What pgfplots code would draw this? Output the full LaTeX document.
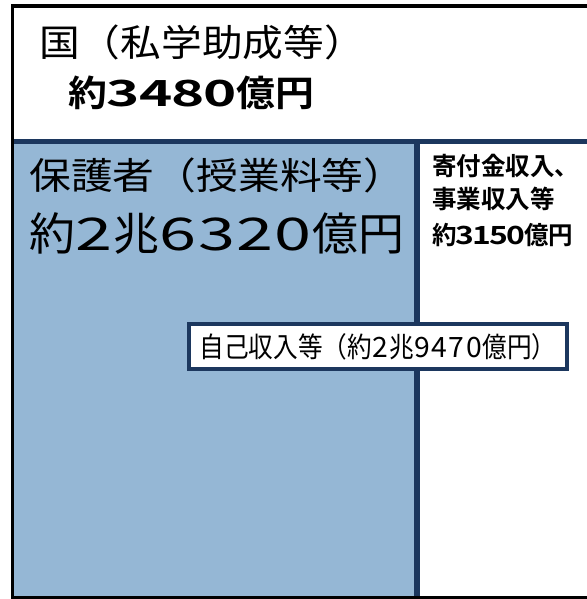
\documentclass[border=0pt]{standalone}
\usepackage{pgfplots}
\pgfplotsset{compat=1.18}
\usepackage{fontspec}
\usepackage{graphicx}
\newfontfamily\cjk{Noto Sans CJK JP}
\newfontfamily\cjkb{Noto Sans CJK JP Bold}
\definecolor{navy}{RGB}{28,55,94}
\definecolor{fillblue}{RGB}{149,183,213}
\newlength\dw
\newcommand\dsx{1.3}
\newcommand\D[1]{\makebox[\dw][c]{\scalebox{\dsx}[1]{#1}}}
\begin{document}
\begin{tikzpicture}
\begin{axis}[
  width=587bp, height=599bp, scale only axis,
  xmin=0, xmax=587, ymin=0, ymax=599, y dir=reverse,
  axis lines=none, ticks=none, clip=true,
]
% background and areas
\addplot[fill=white, draw=none] coordinates {(0,0) (587,0) (587,599) (0,599) (0,0)};
\addplot[fill=fillblue, draw=none] coordinates {(13,144) (415,144) (415,597) (13,597) (13,144)};
% borders
\addplot[black, line width=4bp] coordinates {(11,6.5) (587,6.5)};
\addplot[black, line width=3bp] coordinates {(12.5,5) (12.5,598)};
\addplot[black, line width=3bp] coordinates {(11,597.5) (587,597.5)};
\addplot[navy, line width=5bp] coordinates {(14,141.5) (587,141.5)};
\addplot[navy, line width=5.5bp] coordinates {(417,141) (417,596)};
% labels
\node[anchor=west, inner sep=0] at (axis cs:39,42)
  {\scalebox{1.1}[1]{\cjk\fontsize{37bp}{40bp}\selectfont 国（私学助成等）}};
\node[anchor=west, inner sep=0] at (axis cs:68,93)
  {\renewcommand\dsx{1.45}\setlength\dw{30bp}\scalebox{1.08}[1]{\cjkb\fontsize{36bp}{40bp}\selectfont 約\D3\D4\D8\D0億円}};
\node[anchor=west, inner sep=0] at (axis cs:29,175)
  {\scalebox{1.13}[1]{\cjk\fontsize{37bp}{40bp}\selectfont 保護者（授業料等）}};
\node[anchor=west, inner sep=0] at (axis cs:29,234)
  {\renewcommand\dsx{1.45}\setlength\dw{37.5bp}\scalebox{1.02}[1]{\cjk\fontsize{45bp}{48bp}\selectfont 約\D2兆\D6\D3\D2\D0億円}};
\node[anchor=west, inner sep=0] at (axis cs:432,166)
  {\scalebox{0.98}[1]{\cjkb\fontsize{25bp}{28bp}\selectfont 寄付金収入、}};
\node[anchor=west, inner sep=0] at (axis cs:432,199)
  {\scalebox{0.98}[1]{\cjkb\fontsize{25bp}{28bp}\selectfont 事業収入等}};
\node[anchor=west, inner sep=0] at (axis cs:432,235)
  {\setlength\dw{17.2bp}\scalebox{0.98}[1]{\cjkb\fontsize{25bp}{28bp}\selectfont 約\D3\D1\D5\D0億円}};
\node[draw=navy, line width=4bp, fill=white, minimum width=378bp, minimum height=45bp, inner sep=0]
  at (axis cs:378,346.5)
  {\renewcommand\dsx{1.15}\setlength\dw{19.5bp}\scalebox{0.88}[1]{\cjk\fontsize{28bp}{30bp}\selectfont 自己収入等（約\D2兆\D9\D4\D7\D0億円）}};
\end{axis}
\end{tikzpicture}
\end{document}
